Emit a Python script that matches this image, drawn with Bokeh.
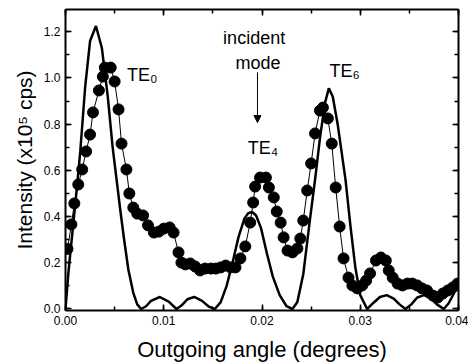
from bokeh.plotting import figure
from bokeh.models import (LinearAxis, Range1d, Arrow, NormalHead, SingleIntervalTicker,
                          ColumnDataSource, PrintfTickFormatter, CustomJSTickFormatter)
from bokeh.core.properties import value
from bokeh.embed import file_html
from bokeh.resources import INLINE

# measured (dots)
meas_x = [0.0002, 0.0006, 0.0009, 0.0013, 0.0017, 0.0021, 0.0025, 0.0028, 0.0034, 0.0038,
          0.0040, 0.0046, 0.0050, 0.0054, 0.0057, 0.0062, 0.0065, 0.0069, 0.0073, 0.0079,
          0.0084, 0.0090, 0.0095, 0.0100, 0.0106, 0.0110, 0.0115, 0.0118, 0.0122, 0.0127,
          0.0132, 0.0137, 0.0142, 0.0148, 0.0153, 0.0158, 0.0163, 0.0168, 0.0173, 0.0178,
          0.0183, 0.0188, 0.0191, 0.0193, 0.0198, 0.0204, 0.0207, 0.0212, 0.0215, 0.0219,
          0.0222, 0.0226, 0.0231, 0.0236, 0.0239, 0.0242, 0.0246, 0.0250, 0.0254, 0.0259,
          0.0262, 0.0267, 0.0271, 0.0275, 0.0279, 0.0283, 0.0288, 0.0292, 0.0297, 0.0302,
          0.0306, 0.0310, 0.0316, 0.0321, 0.0326, 0.0329, 0.0333, 0.0338, 0.0343, 0.0348,
          0.0353, 0.0358, 0.0363, 0.0368, 0.0374, 0.0379, 0.0384, 0.0389, 0.0394, 0.0399]
meas_y = [0.260, 0.366, 0.457, 0.539, 0.604, 0.682, 0.755, 0.851, 0.946, 1.006,
          1.045, 1.045, 0.985, 0.864, 0.716, 0.604, 0.500, 0.439, 0.413, 0.405,
          0.362, 0.331, 0.335, 0.348, 0.353, 0.331, 0.245, 0.201, 0.193, 0.197,
          0.184, 0.167, 0.175, 0.175, 0.175, 0.180, 0.188, 0.180, 0.180, 0.219,
          0.271, 0.374, 0.461, 0.530, 0.569, 0.569, 0.526, 0.483, 0.422, 0.374,
          0.310, 0.253, 0.245, 0.262, 0.305, 0.383, 0.513, 0.630, 0.760, 0.859,
          0.872, 0.825, 0.716, 0.526, 0.357, 0.219, 0.136, 0.102, 0.089, 0.102,
          0.123, 0.154, 0.210, 0.223, 0.210, 0.167, 0.136, 0.110, 0.102, 0.110,
          0.110, 0.102, 0.089, 0.080, 0.058, 0.050, 0.067, 0.080, 0.093, 0.110]

# theory (solid line)
theo_x = [0.0000, 0.0003, 0.0007, 0.0011, 0.0015, 0.0020, 0.0025, 0.0031, 0.0037, 0.0043,
          0.0048, 0.0052, 0.0056, 0.0060, 0.0064, 0.0069, 0.0073, 0.0077, 0.0082, 0.0087,
          0.0096, 0.0105, 0.0113, 0.0118, 0.0124, 0.0131, 0.0139, 0.0146, 0.0152, 0.0158,
          0.0164, 0.0170, 0.0176, 0.0182, 0.0186, 0.0190, 0.0194, 0.0199, 0.0205, 0.0211,
          0.0218, 0.0225, 0.0231, 0.0236, 0.0242, 0.0248, 0.0254, 0.0259, 0.0264, 0.0268,
          0.0272, 0.0277, 0.0281, 0.0285, 0.0290, 0.0295, 0.0300, 0.0307, 0.0313, 0.0320,
          0.0327, 0.0334, 0.0340, 0.0346, 0.0352, 0.0358, 0.0365, 0.0372, 0.0378, 0.0385,
          0.0390, 0.0395, 0.0400]
theo_y = [0.000, 0.160, 0.330, 0.500, 0.680, 0.960, 1.160, 1.225, 1.130, 0.920,
          0.700, 0.560, 0.420, 0.290, 0.170, 0.070, 0.020, 0.000, 0.012, 0.035,
          0.052, 0.032, 0.000, 0.015, 0.042, 0.052, 0.035, 0.010, 0.000, 0.030,
          0.100, 0.200, 0.310, 0.390, 0.415, 0.420, 0.405, 0.350, 0.240, 0.140,
          0.060, 0.012, 0.000, 0.030, 0.150, 0.360, 0.560, 0.740, 0.890, 0.955,
          0.920, 0.800, 0.680, 0.560, 0.360, 0.180, 0.060, 0.000, 0.025, 0.052,
          0.060, 0.045, 0.020, 0.000, 0.020, 0.050, 0.060, 0.045, 0.020, 0.000,
          0.025, 0.065, 0.120]

# annotations
label_x = [0.0078, 0.0192, 0.0196, 0.0201, 0.0284]
label_y = [1.015, 1.171, 1.063, 0.699, 1.032]
label_text = ["TE\u2080", "incident", "mode", "TE\u2084", "TE\u2086"]
arrow_x = 0.01954
arrow_y = [1.024, 0.807]

p = figure(width=468, height=364, output_backend="svg", toolbar_location=None,
           x_range=Range1d(0, 0.04), y_range=Range1d(-0.0065, 1.2965),
           min_border_left=65, min_border_right=10, min_border_top=9, min_border_bottom=54)
p.outline_line_color = None
p.xgrid.visible = False
p.ygrid.visible = False

font = "Liberation Sans"

def style(ax):
    ax.axis_line_width = 2
    ax.axis_line_color = "black"
    ax.major_tick_in = 6
    ax.major_tick_out = 0
    ax.minor_tick_in = 4
    ax.minor_tick_out = 0
    ax.major_tick_line_width = 1.5
    ax.minor_tick_line_width = 1.5
    ax.major_label_text_font = font
    ax.major_label_text_font_size = "12px"
    ax.major_label_text_color = "black"
    ax.axis_label_text_font = font
    ax.axis_label_text_font_style = "normal"
    ax.axis_label_text_color = "black"

p.xaxis.ticker = SingleIntervalTicker(interval=0.01, num_minor_ticks=2)
p.yaxis.ticker = SingleIntervalTicker(interval=0.2, num_minor_ticks=2)
p.xaxis.formatter = PrintfTickFormatter(format="%.2f")
p.yaxis.formatter = PrintfTickFormatter(format="%.1f")
style(p.xaxis[0])
style(p.yaxis[0])
p.xaxis.axis_label = "Outgoing angle (degrees)"
p.yaxis.axis_label = "Intensity (x10\u2075 cps)"
p.xaxis.axis_label_text_font_size = "22px"
p.yaxis.axis_label_text_font_size = "21px"
p.xaxis.major_label_standoff = 5
p.xaxis.axis_label_standoff = 9
p.yaxis.major_label_standoff = 5
p.yaxis.axis_label_standoff = 5

blank = CustomJSTickFormatter(code="return ''")
top = LinearAxis(ticker=SingleIntervalTicker(interval=0.01, num_minor_ticks=2), formatter=blank)
style(top)
top.major_label_standoff = 0
p.add_layout(top, "above")
right = LinearAxis(ticker=SingleIntervalTicker(interval=0.2, num_minor_ticks=2), formatter=blank)
style(right)
right.major_label_standoff = 0
p.add_layout(right, "right")

p.line(theo_x, theo_y, line_color="black", line_width=2.5)
p.line(meas_x, meas_y, line_color="black", line_width=1)
p.scatter(meas_x, meas_y, size=11, marker="circle", fill_color="black", line_color="black")

src = ColumnDataSource(dict(x=label_x, y=label_y, t=label_text))
p.text(x="x", y="y", text="t", source=src, text_font=value(font), text_font_size="18px",
       text_align="center", text_baseline="middle", text_color="black")

p.add_layout(Arrow(end=NormalHead(size=7, fill_color="black", line_color="black"),
                   x_start=arrow_x, y_start=arrow_y[0], x_end=arrow_x, y_end=arrow_y[1],
                   line_width=1, line_color="black"))

open("out.html", "w").write(file_html(p, INLINE))
